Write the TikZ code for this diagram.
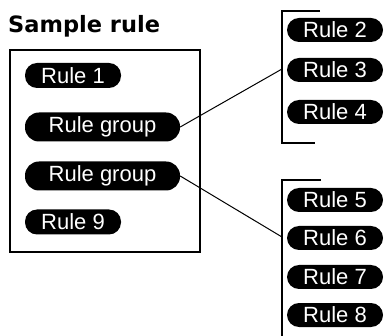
\documentclass[tikz,border=0pt]{standalone}
\usepackage{fontspec}
\setmainfont{Liberation Sans}
\newfontfamily\titlefont{DejaVu Sans}
\begin{document}
\begin{tikzpicture}[x=1pt,y=-1pt,
  pill/.style={fill=black, text=white, rounded corners=12pt, inner sep=0pt,
    minimum height=25pt, minimum width=96pt, font=\fontsize{22pt}{24pt}\selectfont},
  grouppill/.style={pill, minimum width=155pt, minimum height=29pt, rounded corners=14pt},
  rpill/.style={pill, minimum height=24pt},
  frame/.style={line width=2pt},
  conn/.style={line width=1pt}]
\useasboundingbox (0,0) rectangle (385,336);
\node[anchor=base west, inner sep=0pt, font=\titlefont\bfseries\fontsize{22.5pt}{24pt}\selectfont] (title) at (8,33) {Sample rule};
\draw[frame] (10,50) rectangle (200,252);
\node[pill] (r1) at (73,75.5) {Rule 1};
\node[grouppill] (g1) at (102.5,127) {Rule group};
\node[grouppill] (g2) at (102.5,176) {Rule group};
\node[pill] (r9) at (73,222) {Rule 9};
\node[rpill] (r2) at (335,30) {Rule 2};
\node[rpill] (r3) at (335,70) {Rule 3};
\node[rpill] (r4) at (335,112) {Rule 4};
\node[rpill] (r5) at (335,200) {Rule 5};
\node[rpill] (r6) at (335,238) {Rule 6};
\node[rpill] (r7) at (335,277) {Rule 7};
\node[rpill] (r8) at (335,315) {Rule 8};
\draw[frame] (320,11) -- (282,11) -- (282,143) -- (315,143);
\draw[frame] (321,180) -- (282,180) -- (282,340);
\coordinate (b1) at (282,69);
\coordinate (b2) at (282,237);
\draw[conn] (g1.east) -- (b1);
\draw[conn] (g2.east) -- (b2);
\end{tikzpicture}
\end{document}
